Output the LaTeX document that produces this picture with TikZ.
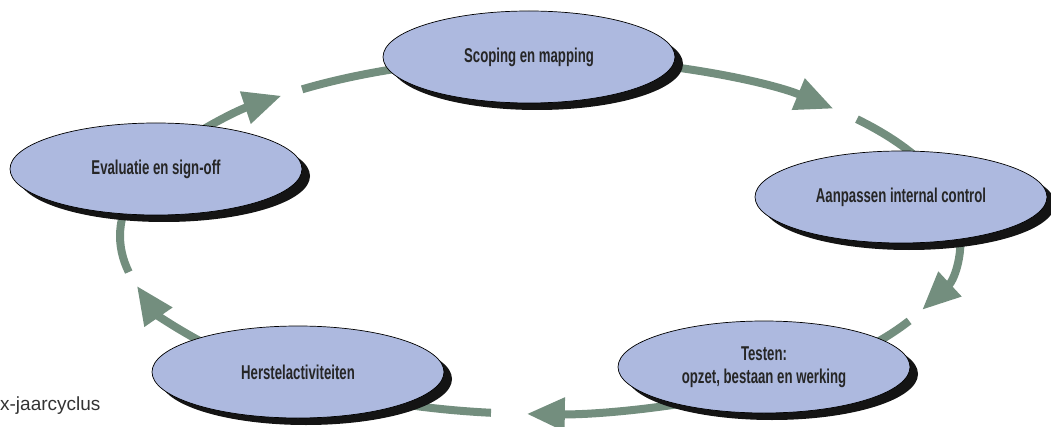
\documentclass[tikz,border=0pt]{standalone}
\usepackage{fontspec}
\setsansfont{Liberation Sans}
\newfontfamily\phasefont{Liberation Sans}[FakeStretch=0.66]
\usetikzlibrary{shapes.geometric,shadows,arrows.meta,backgrounds}
\definecolor{phasefill}{HTML}{ADB9DF}
\definecolor{cyclegreen}{HTML}{738E7E}
\tikzset{
  phase/.style={ellipse, draw=black, line width=0.7pt, fill=phasefill,
    minimum width=292pt, minimum height=92pt, inner sep=0pt, align=center,
    font=\phasefont\bfseries\fontsize{20}{23}\selectfont, text=black!85,
    drop shadow={shadow xshift=8pt, shadow yshift=-7pt, fill=black!92, opacity=1}},
  flow/.style={draw=cyclegreen, line width=8pt},
}
\begin{document}
\begin{tikzpicture}[x=1pt,y=1pt]
  \useasboundingbox (0,0) rectangle (1051,426);
  \coordinate (mid) at (540,190);

  \node[phase] (scope)   at (529,369) {Scoping en mapping};
  \node[phase] (aanp)    at (901,229) {Aanpassen internal control};
  \node[phase] (testen)  at (764,59)  {Testen:\\opzet, bestaan en werking};
  \node[phase] (herstel) at (298,54)  {Herstelactiviteiten};
  \node[phase] (eval)    at (156,257) {Evaluatie en sign-off};

  \node[anchor=base east, font=\sffamily\fontsize{19}{22}\selectfont, text=black!80]
    (caption) at (104,16) {x-jaarcyclus};

  % cycle arcs: start, arrow tip, gap end, end
  \begin{scope}[on background layer]
    \foreach \a/\t/\g/\b in {80/45.7/41/15, 8/-24.5/-28.5/-45, -65/-91.8/-96.7/-120,
                             -135/-163.7/-168.3/-195, 150/128/124.5/100} {
      \path (mid) ++(\a:420pt and 178pt) coordinate (from)
            (mid) ++(\g:420pt and 178pt) coordinate (gap);
      \draw[flow,-{Triangle[length=38pt,width=32pt]}] (from)
        arc[start angle=\a, end angle=\t, x radius=420pt, y radius=178pt];
      \draw[flow] (gap)
        arc[start angle=\g, end angle=\b, x radius=420pt, y radius=178pt];
    }
  \end{scope}
\end{tikzpicture}
\end{document}
